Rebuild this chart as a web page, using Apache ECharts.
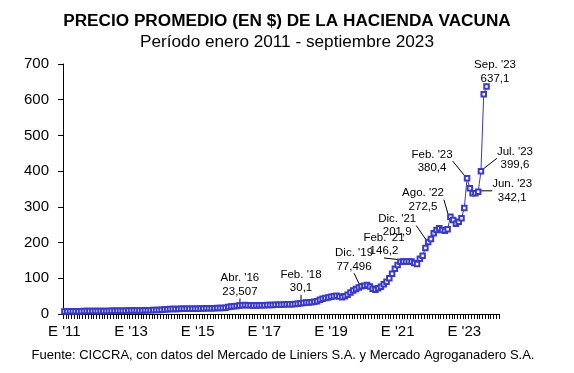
<!DOCTYPE html>
<html><head><meta charset="utf-8">
<script src="https://cdn.jsdelivr.net/npm/echarts@6/dist/echarts.min.js"></script>
<style>html,body{margin:0;padding:0;background:#fff}#c{width:574px;height:373px}</style>
</head><body><div id="c"></div>
<script>
// ---- data ----
const startYear = 2011;
const monthNames = ['Ene','Feb','Mar','Abr','May','Jun','Jul','Ago','Sep','Oct','Nov','Dic'];
const tickLabels = ["E '11","E '13","E '15","E '17","E '19","E '21","E '23"];
const yTicks = [0,100,200,300,400,500,600,700];

const v2011 = [7.2,7.4,7.6,7.8,7.9,8.0,8.0,8.1,8.1,8.2,8.3,8.4];
const v2012 = [8.5,8.6,8.6,8.7,8.7,8.8,8.8,8.9,9.0,9.1,9.3,9.5];
const v2013 = [9.6,9.7,9.8,9.9,10.0,10.2,10.5,10.8,11.0,11.2,11.5,11.8];
const v2014 = [12.5,13.5,14.0,14.0,14.0,14.0,14.5,14.5,15.0,15.0,15.0,15.0];
const v2015 = [15.0,15.2,15.5,15.8,16.0,16.0,16.3,16.5,16.8,17.0,17.5,19.5];
const v2016 = [21.0,22.0,22.5,23.507,24.5,25.0,24.8,24.2,23.8,24.0,24.3,24.5];
const v2017 = [24.8,25.0,25.2,25.5,25.7,26.0,26.2,26.5,27.0,27.2,27.5,28.0];
const v2018 = [28.5,30.1,31.0,32.0,32.5,33.0,34.0,36.0,40.0,43.0,45.0,46.0];
const v2019 = [48,50,51,49,47,50,54,60,66,70,74,77.496];
const v2020 = [79,81,77,71,68,72,76,83,90,100,113,127];
const v2021 = [137,146.2,147,147,147,147,143,140,155,163,185,201.9];
const v2022 = [210,226,235,240,235,233,237,272.5,263,253,258,268];
const v2023 = [297,380.4,352,338,338,342.1,399.6,615,637.1];

// annotated months [year, month]
const annotated = [[2016,4],[2018,2],[2019,12],[2021,2],[2021,12],[2022,8],[2023,2],[2023,6],[2023,7],[2023,9]];
// label offsets (dx, dy) relative to point
const annOffsets = [[0.6,-20.6],[0.6,-21.8],[-7.5,-26.6],[-16.4,-17.3],[-31,-16.4],[-27.4,-17],[-35,-17],[34,-1],[34,-13],[8.5,-14.5]];

// ---- build ----
const values = [].concat(v2011,v2012,v2013,v2014,v2015,v2016,v2017,v2018,v2019,v2020,v2021,v2022,v2023);
const categories = [];
for (let y = startYear; y <= 2024; y++) {
  for (let m = 0; m < 12; m++) {
    if (y === 2024 && m > 0) break;
    categories.push(monthNames[m] + ' ' + y);
  }
}
const C = '#3838d4';
const FONT = 'Arial, "Liberation Sans", sans-serif';
const annMap = {};
annotated.forEach((a, k) => { annMap[(a[0]-startYear)*12 + a[1]-1] = k; });

const seriesData = values.map((v, i) => {
  const k = annMap[i];
  if (k == null) return v;
  const a = annotated[k];
  const txt = monthNames[a[1]-1] + ". '" + String(a[0]).slice(2) + '\n' + String(v).replace('.', ',');
  return {
    value: v,
    label: {show: true, position: 'inside', formatter: txt, color: '#000', fontSize: 11.5, lineHeight: 13.5, fontFamily: FONT, align: 'center', verticalAlign: 'middle'},
    labelLine: {show: k !== annotated.length - 1, lineStyle: {color: '#000', width: 1}}
  };
});

const chart = echarts.init(document.getElementById('c'), null, {renderer: 'canvas'});
chart.setOption({
  animation: false,
  backgroundColor: '#fff',
  grid: {left: 63, right: 75, top: 64, bottom: 59, containLabel: false},
  graphic: [
    {type: 'text', left: 'center', top: 13, style: {text: 'PRECIO PROMEDIO (EN $) DE LA HACIENDA VACUNA', font: 'bold 17.2px ' + FONT, fill: '#000'}},
    {type: 'text', left: 'center', top: 34, style: {text: 'Período enero 2011 - septiembre 2023', font: '17.2px ' + FONT, fill: '#000'}},
    {type: 'text', x: 283, y: 355, style: {text: 'Fuente: CICCRA, con datos del Mercado de Liniers S.A. y Mercado Agroganadero S.A.', font: '13px ' + FONT, fill: '#000', textAlign: 'center', textVerticalAlign: 'middle'}}
  ],
  xAxis: {
    type: 'category', data: categories, boundaryGap: true,
    axisLine: {show: true, lineStyle: {color: '#000', width: 1}},
    axisTick: {show: true, interval: 0, length: 5, lineStyle: {color: '#000', width: 1}},
    axisLabel: {
      interval: (i) => i % 24 === 0,
      formatter: (val, i) => tickLabels[i / 24] || '',
      color: '#000', fontSize: 15, fontFamily: FONT, margin: 10
    },
    splitLine: {show: false}
  },
  yAxis: {
    type: 'value', min: yTicks[0], max: yTicks[yTicks.length-1], interval: 100,
    axisLine: {show: true, lineStyle: {color: '#000', width: 1}},
    axisTick: {show: true, length: 5, lineStyle: {color: '#000'}},
    axisLabel: {color: '#000', fontSize: 15, fontFamily: FONT, margin: 14},
    splitLine: {show: false}
  },
  series: [{
    type: 'line', data: seriesData,
    symbol: 'emptyRect', symbolSize: 4.5, showAllSymbol: true,
    lineStyle: {color: C, width: 1},
    itemStyle: {color: C, borderColor: C, borderWidth: 1},
    emphasis: {disabled: true},
    labelLayout: (p) => {
      const k = annMap[p.dataIndex];
      if (k == null) return {};
      return {dx: annOffsets[k][0], dy: annOffsets[k][1]};
    }
  }]
});
</script>
</body></html>
